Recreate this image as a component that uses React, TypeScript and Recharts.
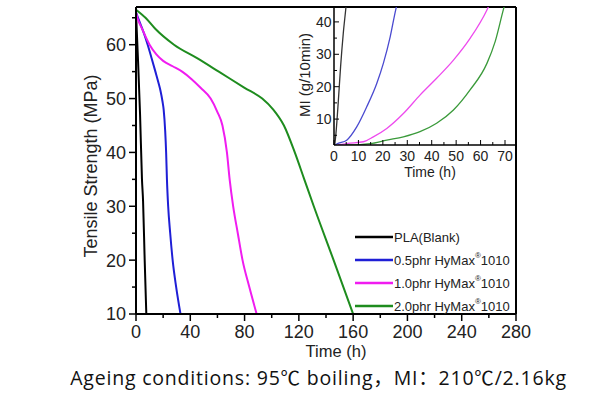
import React from 'react';
import { LineChart, Line, XAxis, YAxis, ReferenceLine, Legend } from 'recharts';

// tensile strength (MPa) vs ageing time (h)
const blankTime = [0, 1.5, 3, 4.4, 5.2, 6.4, 7.6];
const blankTs = [66, 57, 47, 35, 31, 20, 10];
const half05Time = [0, 3, 6, 8.6, 11.5, 14.3, 16.5, 18, 19.5, 20.4, 21.5, 22.2, 22.8, 23.7, 25.2, 27, 29.6, 32.8];
const half05Ts = [66, 64, 62, 60, 57.5, 55, 53, 51.5, 49.5, 47.9, 44, 40, 35, 30, 25, 20, 15, 10];
const one10Time = [0, 1, 4.4, 10, 15, 20, 27, 34, 41, 47.6, 55, 60, 63.7, 67, 69, 71.6, 75, 78.5, 83.5, 88.9];
const one10Ts = [66, 65, 63, 60, 58.2, 57, 56, 55, 53.6, 52, 50, 47.5, 45, 40, 35, 30, 25, 20, 15, 10];
const two20Time = [0, 7, 14, 28, 45, 61, 80, 93, 101, 109, 117, 124, 131, 145.6, 160];
const two20Ts = [66.5, 65, 63, 60, 57.5, 55, 52, 50, 48, 45, 40, 35, 30, 20, 10];

// inset: melt index (g/10min) vs time (h)
const miBlankTime = [0.3, 0.8, 1.8, 2.7, 3.8, 4.9, 5.2];
const miBlank = [2, 5.6, 15.9, 26.2, 36.5, 44.6, 47];
const mi05Time = [0.5, 1.1, 5.2, 9.3, 13.4, 17.5, 20.2, 23, 25.4, 26];
const mi05 = [2, 2.3, 3.5, 7.6, 13.8, 21, 27.2, 35.4, 44.2, 46];
const mi10Time = [1.5, 5.6, 12, 16.1, 21.6, 28.4, 35.2, 42, 48.9, 55.7, 62.6, 64];
const mi10 = [2, 2.5, 3, 4.5, 7.1, 11.7, 17.4, 22.6, 28.2, 34.9, 43.7, 46];
const mi20Time = [5, 10.7, 14.8, 21.6, 28.4, 35.2, 42, 48.9, 55.7, 62.6, 66, 69.3, 70.5];
const mi20 = [2, 2.1, 2.4, 3.5, 4.5, 6.1, 8.7, 12.8, 19, 27.2, 34, 43.7, 47];

const seriesNames = ['PLA(Blank)', '0.5phr HyMax®1010', '1.0phr HyMax®1010', '2.0phr HyMax®1010'];
const mainColors = ['#000000', '#1f1fd6', '#f01cf0', '#1e8c1e'];
const insetColors = ['#333333', '#4a4ad0', '#ee4aee', '#3a9a3a'];

const mainXMajor = [0, 40, 80, 120, 160, 200, 240, 280];
const mainXMinor = [20, 60, 100, 140, 180, 220, 260];
const mainYMajor = [10, 20, 30, 40, 50, 60];
const mainYMinor = [15, 25, 35, 45, 55, 65];
const insetXMajor = [0, 10, 20, 30, 40, 50, 60, 70];
const insetXMinor = [5, 15, 25, 35, 45, 55, 65];
const insetYMajor = [10, 20, 30, 40];
const insetYMinor = [5, 15, 25, 35];

const toPoints = (t: number[], v: number[]) => t.map((x, i) => ({ t: x, v: v[i] }));

const mainData = [
  toPoints(blankTime, blankTs),
  toPoints(half05Time, half05Ts),
  toPoints(one10Time, one10Ts),
  toPoints(two20Time, two20Ts),
];
const insetData = [
  toPoints(miBlankTime, miBlank),
  toPoints(mi05Time, mi05),
  toPoints(mi10Time, mi10),
  toPoints(mi20Time, mi20),
];

const FONT = '"Liberation Sans", Arial, sans-serif';

const renderMainXTick = (props: any) => {
  const { x, y, payload } = props;
  const major = mainXMajor.includes(payload.value);
  return (
    <g>
      <line x1={x} y1={y} x2={x} y2={y + (major ? 7 : 4)} stroke="#000" strokeWidth={1.5} />
      {major && (
        <text x={x} y={y + 24} textAnchor="middle" fontSize={18} fontFamily={FONT} fill="#222">
          {payload.value}
        </text>
      )}
    </g>
  );
};

const renderMainYTick = (props: any) => {
  const { x, y, payload } = props;
  const major = mainYMajor.includes(payload.value);
  return (
    <g>
      <line x1={x} y1={y} x2={x - (major ? 7 : 4)} y2={y} stroke="#000" strokeWidth={1.5} />
      {major && (
        <text x={x - 10} y={y} dy="0.36em" textAnchor="end" fontSize={18} fontFamily={FONT} fill="#222">
          {payload.value}
        </text>
      )}
    </g>
  );
};

const renderInsetXTick = (props: any) => {
  const { x, y, payload } = props;
  const major = insetXMajor.includes(payload.value);
  return (
    <g>
      <line x1={x} y1={y} x2={x} y2={y - (major ? 5 : 3)} stroke="#000" strokeWidth={1} />
      {major && (
        <text x={x} y={y + 15.5} textAnchor="middle" fontSize={14} fontFamily={FONT} fill="#222">
          {payload.value}
        </text>
      )}
    </g>
  );
};

const renderInsetYTick = (props: any) => {
  const { x, y, payload } = props;
  const major = insetYMajor.includes(payload.value);
  return (
    <g>
      <line x1={x} y1={y} x2={x + (major ? 5 : 3)} y2={y} stroke="#000" strokeWidth={1} />
      {major && (
        <text x={x - 2.5} y={y} dy="0.36em" textAnchor="end" fontSize={14} fontFamily={FONT} fill="#222">
          {payload.value}
        </text>
      )}
    </g>
  );
};

const renderName = (name: string) => {
  const parts = name.split('®');
  if (parts.length < 2) return name;
  return (
    <>
      {parts[0]}
      <sup style={{ fontSize: 8, verticalAlign: 'top', position: 'relative', top: -2 }}>®</sup>
      {parts[1]}
    </>
  );
};

const renderLegend = (props: any) => {
  const payload = [...(props.payload || [])].sort(
    (a: any, b: any) => seriesNames.indexOf(a.value) - seriesNames.indexOf(b.value)
  );
  return (
    <div style={{ fontFamily: FONT, fontSize: 13, color: '#222' }}>
      {payload.map((entry: any) => (
        <div key={entry.value} style={{ display: 'flex', alignItems: 'center', height: 23, whiteSpace: 'nowrap' }}>
          <svg width={38} height={4} style={{ display: 'block' }}>
            <line x1={0} y1={2} x2={38} y2={2} stroke={entry.color} strokeWidth={2.5} />
          </svg>
          <span style={{ marginLeft: 1 }}>{renderName(entry.value)}</span>
        </div>
      ))}
    </div>
  );
};

export default function App() {
  return (
    <div style={{ position: 'absolute', left: 0, top: 0, width: 607, height: 399, background: '#fff' }}>
      <LineChart width={607} height={399} margin={{ top: 7, right: 91, bottom: 45, left: 86 }}>
        <XAxis
          type="number"
          dataKey="t"
          domain={[0, 280]}
          ticks={[...mainXMajor, ...mainXMinor].sort((a, b) => a - b)}
          interval={0}
          height={40}
          tickSize={0}
          tickMargin={0}
          tickLine={false}
          axisLine={{ stroke: '#000', strokeWidth: 2 }}
          tick={renderMainXTick}
          allowDataOverflow
        />
        <YAxis
          type="number"
          dataKey="v"
          domain={[10, 67]}
          ticks={[...mainYMajor, ...mainYMinor].sort((a, b) => a - b)}
          interval={0}
          width={50}
          tickSize={0}
          tickMargin={0}
          tickLine={false}
          axisLine={{ stroke: '#000', strokeWidth: 2 }}
          tick={renderMainYTick}
          allowDataOverflow
        />
        <ReferenceLine y={67} stroke="#000" strokeWidth={2} />
        <ReferenceLine x={280} stroke="#000" strokeWidth={2} />
        {mainData.map((pts, i) => (
          <Line
            key={seriesNames[i]}
            data={pts}
            dataKey="v"
            name={seriesNames[i]}
            type="monotone"
            stroke={mainColors[i]}
            strokeWidth={2}
            dot={false}
            isAnimationActive={false}
          />
        ))}
        <Legend
          layout="vertical"
          align="center"
          verticalAlign="middle"
          content={renderLegend}
          wrapperStyle={{ position: 'absolute', left: 355, top: 225.5, width: 170 }}
        />
      </LineChart>

      <div style={{ position: 'absolute', left: 280, top: 0 }}>
        <LineChart width={240} height={190} margin={{ top: 7, right: 4, bottom: 15, left: 24 }}>
          <XAxis
            type="number"
            dataKey="t"
            domain={[0, 74.5]}
            ticks={[...insetXMajor, ...insetXMinor].sort((a, b) => a - b)}
            interval={0}
            height={30}
            tickSize={0}
            tickMargin={0}
            tickLine={false}
            axisLine={{ stroke: '#000', strokeWidth: 1.5 }}
            tick={renderInsetXTick}
            allowDataOverflow
          />
          <YAxis
            type="number"
            dataKey="v"
            domain={[2, 44.6]}
            ticks={[...insetYMinor, ...insetYMajor].sort((a, b) => a - b)}
            interval={0}
            width={30}
            tickSize={0}
            tickMargin={0}
            tickLine={false}
            axisLine={{ stroke: '#000', strokeWidth: 1.5 }}
            tick={renderInsetYTick}
            allowDataOverflow
          />
          {insetData.map((pts, i) => (
            <Line
              key={seriesNames[i]}
              data={pts}
              dataKey="v"
              name={seriesNames[i]}
              type="monotone"
              stroke={insetColors[i]}
              strokeWidth={1.3}
              dot={false}
              isAnimationActive={false}
            />
          ))}
        </LineChart>
      </div>

      <svg width={607} height={399} style={{ position: 'absolute', left: 0, top: 0, pointerEvents: 'none' }}>
        <text x={336} y={357} textAnchor="middle" fontSize={16.5} fontFamily={FONT} fill="#222">
          Time (h)
        </text>
        <text
          transform="translate(97, 166) rotate(-90)"
          textAnchor="middle"
          fontSize={18}
          fontFamily={FONT}
          fill="#222"
        >
          Tensile Strength (MPa)
        </text>
        <text x={430} y={177} textAnchor="middle" fontSize={14} fontFamily={FONT} fill="#222">
          Time (h)
        </text>
        <text
          transform="translate(310, 75) rotate(-90)"
          textAnchor="middle"
          fontSize={15}
          fontFamily={FONT}
          fill="#222"
        >
          MI (g/10min)
        </text>
      </svg>

      <div
        style={{
          position: 'absolute',
          left: 318.5,
          top: 365,
          transform: 'translateX(-50%)',
          whiteSpace: 'nowrap',
          fontFamily: '"Open Sans", "Noto Sans CJK SC", sans-serif',
          fontSize: 19.5,
          letterSpacing: 0.8,
          lineHeight: '26px',
          color: '#111',
        }}
      >
        Ageing conditions: 95℃ boiling，MI：210℃/2.16kg
      </div>
    </div>
  );
}
